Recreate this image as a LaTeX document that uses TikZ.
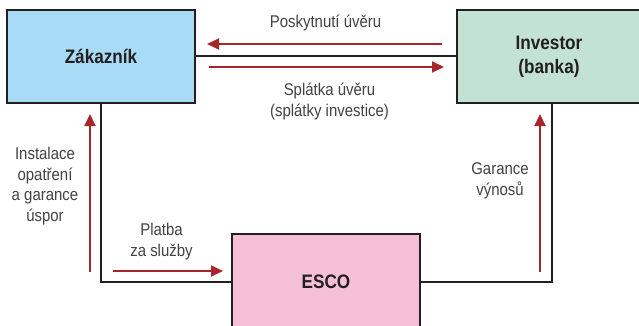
\documentclass[tikz,border=0pt]{standalone}
\usepackage{fontspec}
\setmainfont{Liberation Sans}[FakeStretch=0.88]
\usetikzlibrary{arrows.meta}
\definecolor{zakblue}{HTML}{A8DCF6}
\definecolor{invgreen}{HTML}{C2E3D3}
\definecolor{escopink}{HTML}{F6BFD8}
\definecolor{flowred}{HTML}{A6262B}
\definecolor{edgeblack}{HTML}{231F20}
\tikzset{
  party/.style={draw=edgeblack, line width=2pt, inner sep=0pt, align=center,
    font=\fontsize{19.5}{24}\selectfont\bfseries, text=edgeblack},
  link/.style={draw=edgeblack, line width=2pt},
  flow/.style={draw=flowred, line width=2pt, -{Triangle[length=12pt,width=11pt]}},
  lbl/.style={align=center, inner sep=0pt, font=\fontsize{17}{20.5}\selectfont, text=edgeblack!85}
}
\begin{document}
\begin{tikzpicture}[x=1pt,y=-1pt]
\useasboundingbox (0,0) rectangle (639,326);
\clip (0,0) rectangle (639,326);
\node[party, fill=zakblue, minimum width=188pt, minimum height=93pt] (zak) at (101,56.5) {Zákazník};
\node[party, fill=invgreen, minimum width=184pt, minimum height=93pt] (inv) at (549,56.5) {Investor\\(banka)};
\node[party, fill=escopink, minimum width=188pt, minimum height=96pt] (esco) at (326,282) {ESCO};
% black connectors
\draw[link] (zak.east) -- (inv.west);
\draw[link] (zak.south) |- (esco.west);
\draw[link] ([xshift=3pt]inv.south) |- (esco.east);
% red flows
\coordinate (f1s) at (442,44);  \coordinate (f1e) at (207,44);
\coordinate (f2s) at (209,67);  \coordinate (f2e) at (444,67);
\coordinate (f3s) at (90,272);  \coordinate (f3e) at (90,114);
\coordinate (f4s) at (113,271); \coordinate (f4e) at (223,271);
\coordinate (f5s) at (540,272); \coordinate (f5e) at (540,114);
\draw[flow] (f1s) -- (f1e);
\draw[flow] (f2s) -- (f2e);
\draw[flow] (f3s) -- (f3e);
\draw[flow] (f4s) -- (f4e);
\draw[flow] (f5s) -- (f5e);
% labels
\node[lbl, anchor=base] (l1) at (325.5,27.7) {Poskytnutí úvěru};
\node[lbl] (l2) at (329.5,101.3) {Splátka úvěru\\(splátky investice)};
\node[lbl] (l3) at (45,186) {Instalace\\opatření\\a garance\\úspor};
\node[lbl] (l4) at (161.5,241.5) {Platba\\za služby};
\node[lbl] (l5) at (500,181) {Garance\\výnosů};
\end{tikzpicture}
\end{document}
